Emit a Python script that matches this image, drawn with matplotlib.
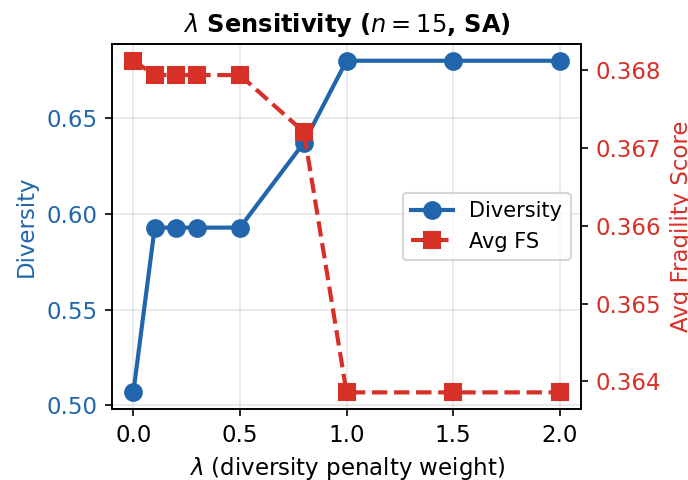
import matplotlib.pyplot as plt
from matplotlib.ticker import MultipleLocator

# lambda sweep values
lambdas = [0.0, 0.1, 0.2, 0.3, 0.5, 0.8, 1.0, 1.5, 2.0]
diversity = [0.5068, 0.5927, 0.5927, 0.5927, 0.5927, 0.6370, 0.6797, 0.6797, 0.6797]
avg_fs = [0.36812, 0.367936, 0.367936, 0.367936, 0.367936, 0.367205, 0.363859, 0.363859, 0.363859]

blue = "#2166ac"
red = "#d73027"

fig = plt.figure(figsize=(6.89 / 1.5, 3.2), dpi=150)
ax1 = fig.add_axes([0.1626, 0.148, 0.6807, 0.760])
ax2 = ax1.twinx()

l1, = ax1.plot(lambdas, diversity, "-o", color=blue, lw=2, ms=8, label="Diversity")
l2, = ax2.plot(lambdas, avg_fs, "--s", color=red, lw=2, ms=7.5, label="Avg FS")

ax1.set_xlabel(r"$\lambda$ (diversity penalty weight)", fontsize=11)
ax1.set_ylabel("Diversity", color=blue, fontsize=11)
ax2.set_ylabel("Avg Fragility Score", color=red, fontsize=11)
ax1.tick_params(axis="y", labelcolor=blue, labelsize=11)
ax1.tick_params(axis="x", labelsize=11)
ax2.tick_params(axis="y", labelcolor=red, labelsize=11)
ax1.set_xticks([0.0, 0.5, 1.0, 1.5, 2.0])
ax1.yaxis.set_major_locator(MultipleLocator(0.05))
ax2.yaxis.set_major_locator(MultipleLocator(0.001))
ax1.grid(True, alpha=0.3)

ax1.set_title(r"$\lambda$ Sensitivity ($n=15$, SA)", fontsize=11.6, fontweight="bold")
ax2.legend([l1, l2], ["Diversity", "Avg FS"], loc="center right", fontsize=10)

fig.savefig("out.png", dpi=150)
